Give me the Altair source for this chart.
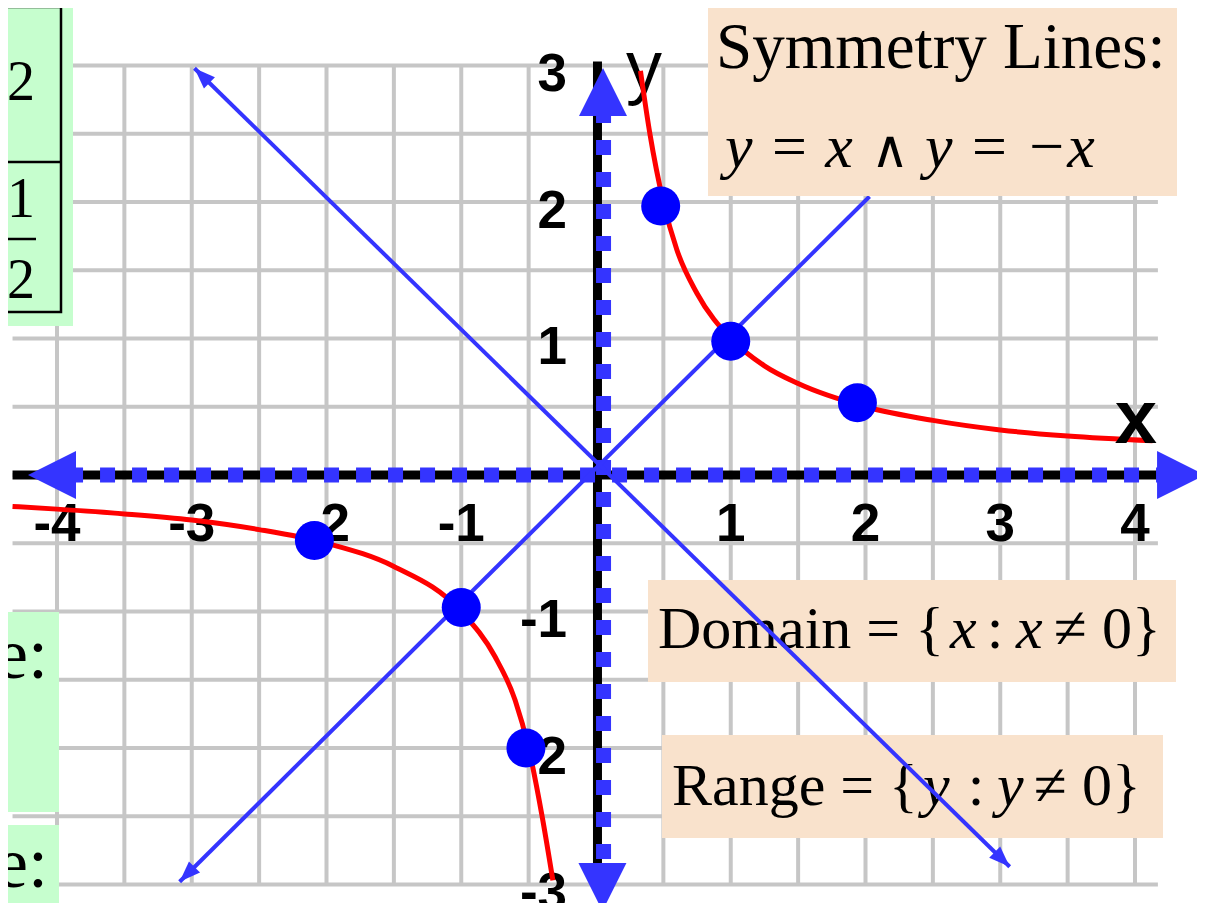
import math
import altair as alt
import pandas as pd

# ---------------- data ----------------
x_grid = [-4, -3.5, -3, -2.5, -2, -1.5, -1, -0.5, 0, 0.5, 1, 1.5, 2, 2.5, 3, 3.5, 4]
y_grid = [-3, -2.5, -2, -1.5, -1, -0.5, 0, 0.5, 1, 1.5, 2, 2.5, 3]
x_tick_labels = [-4, -3, -2, -1, 1, 2, 3, 4]
y_tick_labels = [-3, -2, -1, 1, 2, 3]

upper_x = [0.33, 0.4, 0.5, 0.6, 0.75, 1.0, 1.25, 1.5, 2.0, 2.5, 3.0, 3.5, 4.13]
upper_y = [2.96, 2.5, 2.0, 1.65, 1.33, 1.0, 0.8, 0.67, 0.5, 0.4, 0.33, 0.285, 0.25]
lower_x = [-4.33, -4.0, -3.5, -3.0, -2.5, -2.0, -1.5, -1.0, -0.75, -0.6, -0.5, -0.4, -0.32]
lower_y = [-0.23, -0.25, -0.285, -0.33, -0.4, -0.5, -0.67, -1.0, -1.33, -1.65, -2.0, -2.5, -2.97]

dot_x = [0.48, 1.0, 1.94, -1.0, -2.09, -0.52]
dot_y = [1.97, 0.98, 0.53, -0.97, -0.48, -2.0]

sym_names = ["y = -x", "y = x"]
sym_x1 = [-2.98, -3.09]
sym_y1 = [2.98, -2.98]
sym_x2 = [3.07, 2.03]
sym_y2 = [-2.87, 2.04]
sym_arrow_start = [True, True]
sym_arrow_end = [True, False]

# ---------------- layout / calibration ----------------
W, H = 1189, 895
X0_PAGE, UX = 596.0, 134.75     # page pixel of x=0, pixels per unit
Y0_PAGE, UY = 475.0, 136.5
XD = [(8 - X0_PAGE) / UX, (8 + W - X0_PAGE) / UX]
YD = [(Y0_PAGE - (8 + H)) / UY, (Y0_PAGE - 8) / UY]

GRID = "#C6C6C6"
BLUE = "#3434FF"
DOT = "#0000FF"
RED = "#FF0000"
GREEN = "#C6FECE"
PEACH = "#F9E2CC"
SERIF = "Liberation Serif, DejaVu Serif, serif"
MATHSYM = "DejaVu Serif, serif"

xs = alt.Scale(domain=XD, nice=False, zero=False)
ys = alt.Scale(domain=YD, nice=False, zero=False)


def X(f):
    return alt.X(f, type="quantitative", scale=xs, axis=None)


def Y(f):
    return alt.Y(f, type="quantitative", scale=ys, axis=None)


def P(page):  # page pixel -> chart pixel
    return page - 8


one = pd.DataFrame({"k": [0]})
layers = []


def label(txt, px, py, size, align="left", font=SERIF, style="normal", weight="normal"):
    return (alt.Chart(one).mark_text(text=txt, font=font, fontSize=size, fontStyle=style,
                                     fontWeight=weight, align=align, baseline="alphabetic",
                                     color="black")
            .encode(x=alt.value(P(px)), y=alt.value(P(py))))


def box(x1, x2, y1, y2, color):
    return (alt.Chart(one).mark_rect(color=color, opacity=1)
            .encode(x=alt.value(P(x1)), x2=alt.value(P(x2)), y=alt.value(P(y1)), y2=alt.value(P(y2))))


# grid
hgrid = pd.DataFrame({"y": y_grid, "x": -4.33, "x2": 4.17})
vgrid = pd.DataFrame({"x": x_grid, "y": -3.0, "y2": 3.0})
layers.append(alt.Chart(hgrid).mark_rule(color=GRID, strokeWidth=4).encode(x=X("x"), x2="x2", y=Y("y")))
layers.append(alt.Chart(vgrid).mark_rule(color=GRID, strokeWidth=4).encode(x=X("x"), y=Y("y"), y2="y2"))

# tick labels
xl = pd.DataFrame({"v": x_tick_labels, "t": [str(v) for v in x_tick_labels], "y": -0.4835})
yl = pd.DataFrame({"v": y_tick_labels, "t": [str(v) for v in y_tick_labels]})
yl["yy"] = yl["v"] - 0.19
yl["x"] = -0.215
layers.append(alt.Chart(xl).mark_text(font="Liberation Sans", fontSize=53, fontWeight="bold",
                                      align="center", baseline="alphabetic", color="black")
              .encode(x=X("v"), y=Y("y"), text="t:N"))
layers.append(alt.Chart(yl).mark_text(font="Liberation Sans", fontSize=53, fontWeight="bold",
                                      align="right", baseline="alphabetic", color="black")
              .encode(x=X("x"), y=Y("yy"), text="t:N"))

# axes (black + blue dotted)
axb = pd.DataFrame({"x": [-4.33, 0.011], "x2": [4.20, 0.011], "y": [0.0, 3.03], "y2": [0.0, -3.0]})
layers.append(alt.Chart(axb).mark_rule(color="black", strokeWidth=9)
              .encode(x=X("x"), x2="x2", y=Y("y"), y2="y2"))
axd = pd.DataFrame({"x": [-3.918, 0.056], "x2": [4.186, 0.056], "y": [0.0, 2.689], "y2": [0.0, -2.872]})
layers.append(alt.Chart(axd).mark_rule(color=BLUE, strokeWidth=15, strokeDash=[15, 17])
              .encode(x=X("x"), x2="x2", y=Y("y"), y2="y2"))
axa = pd.DataFrame({"x": [0.052, 0.048, -4.215, 4.52], "y": [2.982, -3.194, 0.0, 0.0],
                    "a": [0, 180, 270, 90]})
layers.append(alt.Chart(axa).mark_point(shape="M0,0L-1,2L1,2Z", size=2304, filled=True,
                                        color=BLUE, opacity=1, strokeWidth=0)
              .encode(x=X("x"), y=Y("y"), angle=alt.Angle("a:Q", scale=None)))

# axis name y
layers.append(label("y", 644, 91, 72, align="center", font="Liberation Sans"))

# Domain / Range boxes (italic variables as separate pieces)
layers.append(box(648, 1176, 580, 682, PEACH))
layers.append(label("Domain = {", 658, 648, 60))
layers.append(label("x", 950, 648, 60, style="italic"))
layers.append(label(":", 995, 648, 60, align="center"))
layers.append(label("x", 1016, 648, 60, style="italic"))
layers.append(label("≠ 0}", 1054, 648, 60))

layers.append(box(662, 1163, 735, 838, PEACH))
layers.append(label("Range = {", 672, 805, 60))
layers.append(label("y", 923, 805, 60, style="italic"))
layers.append(label(":", 976, 805, 60, align="center"))
layers.append(label("y", 997, 805, 60, style="italic"))
layers.append(label("≠ 0}", 1034, 805, 60))

# symmetry lines
sym = pd.DataFrame({"name": sym_names, "x": sym_x1, "y": sym_y1, "x2": sym_x2, "y2": sym_y2})
layers.append(alt.Chart(sym).mark_rule(color=BLUE, strokeWidth=4)
              .encode(x=X("x"), y=Y("y"), x2="x2", y2="y2"))
ax_, ay_, aa_ = [], [], []
for i in range(len(sym_names)):
    ddx = (sym_x2[i] - sym_x1[i]) * UX
    ddy = -(sym_y2[i] - sym_y1[i]) * UY
    if sym_arrow_start[i]:
        ax_.append(sym_x1[i]); ay_.append(sym_y1[i])
        aa_.append(math.degrees(math.atan2(-ddx, ddy)) % 360)
    if sym_arrow_end[i]:
        ax_.append(sym_x2[i]); ay_.append(sym_y2[i])
        aa_.append(math.degrees(math.atan2(ddx, -ddy)) % 360)
sarr = pd.DataFrame({"x": ax_, "y": ay_, "a": aa_})
layers.append(alt.Chart(sarr).mark_point(shape="M0,0L-0.75,2L0.75,2Z", size=440, filled=True,
                                         color=BLUE, opacity=1, strokeWidth=0)
              .encode(x=X("x"), y=Y("y"), angle=alt.Angle("a:Q", scale=None)))

# red curve y = 1/x
curve = pd.DataFrame({
    "x": upper_x + lower_x,
    "y": upper_y + lower_y,
    "branch": ["upper"] * len(upper_x) + ["lower"] * len(lower_x),
})
layers.append(alt.Chart(curve).mark_line(color=RED, strokeWidth=5, interpolate="monotone")
              .encode(x=X("x"), y=Y("y"), detail="branch:N"))

# points
dots = pd.DataFrame({"x": dot_x, "y": dot_y})
layers.append(alt.Chart(dots).mark_circle(size=1520, color=DOT, opacity=1).encode(x=X("x"), y=Y("y")))

layers.append(label("x", 1136, 443, 76, align="center", font="Liberation Sans", weight="bold"))

# Symmetry box
layers.append(box(708, 1177, 7, 196, PEACH))
layers.append(label("Symmetry Lines:", 716, 68, 65))
layers.append(label("y = x", 725, 167, 62, style="italic"))
layers.append(label("∧", 890, 167, 52, align="center", font=MATHSYM))
layers.append(label("y = −x", 925, 167, 62, style="italic"))

# green boxes on the left
for (x1, x2, y1, y2) in [(0, 73, 0, 326), (0, 59, 612, 812), (0, 59, 825, 911)]:
    layers.append(box(x1, x2, y1, y2, GREEN))
layers.append(alt.Chart(one).mark_rect(fillOpacity=0, stroke="black", strokeWidth=2.5)
              .encode(x=alt.value(P(-20)), x2=alt.value(P(61)), y=alt.value(P(7)), y2=alt.value(P(312))))
for (x1, x2, yy) in [(-20, 61, 162), (3, 36, 239)]:
    layers.append(alt.Chart(one).mark_rule(color="black", strokeWidth=2.5)
                  .encode(x=alt.value(P(x1)), x2=alt.value(P(x2)), y=alt.value(P(yy))))
for (t, tx, ty) in [("2", 21, 100), ("1", 21, 217), ("2", 21, 298)]:
    layers.append(label(t, tx, ty, 56, align="center"))
for ty in [678, 887]:
    layers.append(label("Asymptote:", 48, ty, 72, align="right"))

chart = alt.layer(*layers).properties(
    width=W, height=H,
    autosize=alt.AutoSizeParams(type="none"),
    padding=0,
    background="white",
).configure_view(strokeWidth=0)

chart.save("out.html", embed_options={"renderer": "svg", "actions": False})
